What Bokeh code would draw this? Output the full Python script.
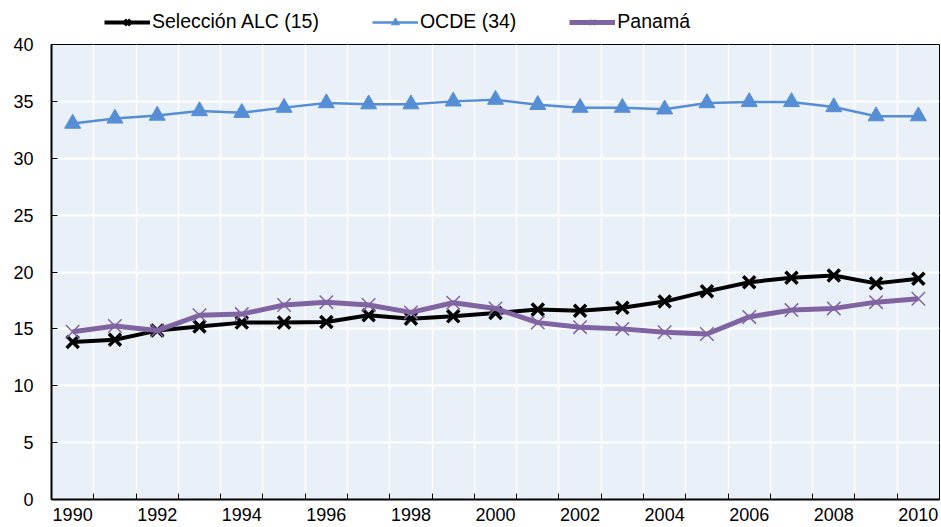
from bokeh.plotting import figure
from bokeh.layouts import column
from bokeh.models import FixedTicker, Legend, LegendItem, ColumnDataSource
from bokeh.embed import file_html
from bokeh.resources import INLINE

years = list(range(1990, 2011))
alc = [13.85, 14.05, 14.85, 15.2, 15.55, 15.55, 15.6, 16.2, 15.9, 16.1, 16.4,
       16.7, 16.6, 16.85, 17.4, 18.3, 19.1, 19.5, 19.7, 19.0, 19.4]
ocde = [33.05, 33.5, 33.75, 34.15, 34.0, 34.45, 34.85, 34.75, 34.75, 35.0, 35.15,
        34.7, 34.45, 34.45, 34.3, 34.85, 34.95, 34.95, 34.5, 33.7, 33.7]
panama = [14.75, 15.25, 14.85, 16.2, 16.3, 17.1, 17.35, 17.1, 16.45, 17.3, 16.8,
          15.55, 15.15, 15.0, 14.7, 14.55, 16.05, 16.65, 16.8, 17.35, 17.65]
labels = ["Selección ALC (15)", "OCDE (34)", "Panamá"]
y_ticks = [0, 5, 10, 15, 20, 25, 30, 35, 40]
x_label_years = list(range(1990, 2011, 2))

FONT = "Liberation Sans"
ALC_C = "#000000"
OCDE_C = "#558ED5"
PAN_C = "#8064A2"

src = ColumnDataSource(dict(year=years, alc=alc, ocde=ocde, panama=panama))


def draw_series(fig, source):
    l1 = fig.line("year", "alc", source=source, line_color=ALC_C, line_width=4)
    m1 = fig.scatter("year", "alc", source=source, marker="x", size=17, line_color=ALC_C, line_width=3.5)
    l2 = fig.line("year", "ocde", source=source, line_color=OCDE_C, line_width=2.5)
    m2 = fig.scatter("year", "ocde", source=source, marker="triangle", size=16,
                     fill_color=OCDE_C, line_color=OCDE_C)
    l3 = fig.line("year", "panama", source=source, line_color=PAN_C, line_width=5)
    m3 = fig.scatter("year", "panama", source=source, marker="x", size=19, line_color=PAN_C, line_width=1.5)
    return [(l1, m1), (l2, m2), (l3, m3)]


# ---- main chart ----
p = figure(width=941, height=491, x_range=(1989.5, 2010.5), y_range=(0, 40),
           output_backend="svg", toolbar_location=None,
           min_border_left=51, min_border_right=2, min_border_top=8, min_border_bottom=28)
p.background_fill_color = "#EAF0F8"
p.border_fill_color = "white"
p.outline_line_color = "black"
p.outline_line_width = 1

half_ticks = [y - 0.5 for y in years] + [2010.5]
p.xaxis.ticker = FixedTicker(ticks=x_label_years, minor_ticks=half_ticks)
p.xaxis.major_tick_in = 0
p.xaxis.major_tick_out = 0
p.xaxis.minor_tick_in = 6
p.xaxis.minor_tick_out = 0
p.xaxis.minor_tick_line_color = "black"
p.xaxis.minor_tick_line_width = 1
p.xgrid.ticker = FixedTicker(ticks=half_ticks)

p.yaxis.ticker = FixedTicker(ticks=y_ticks)
p.yaxis.major_tick_in = 6
p.yaxis.major_tick_out = 0
p.yaxis.minor_tick_line_color = None

for ax in (p.xaxis[0], p.yaxis[0]):
    ax.axis_line_color = "black"
    ax.axis_line_width = 2
    ax.major_tick_line_color = "black"
    ax.major_label_text_font = FONT
    ax.major_label_text_font_size = "18px"
    ax.major_label_text_color = "black"
p.xaxis.major_label_standoff = 8
p.yaxis.major_label_standoff = 18

p.xgrid.grid_line_color = "white"
p.xgrid.grid_line_width = 1.5
p.ygrid.grid_line_color = "white"
p.ygrid.grid_line_width = 2

draw_series(p, src)

# ---- legend strip (series drawn off-view; only the legend shows) ----
lg = figure(width=941, height=36, x_range=(0, 1), y_range=(0, 1),
            output_backend="svg", toolbar_location=None,
            x_axis_location=None, y_axis_location=None,
            min_border_left=0, min_border_right=0, min_border_top=0, min_border_bottom=0)
lg.outline_line_color = None
lg.xgrid.visible = False
lg.ygrid.visible = False
lg.background_fill_color = "white"
rs = draw_series(lg, src)

legend = Legend(items=[LegendItem(label=lab, renderers=list(r)) for lab, r in zip(labels, rs)],
                orientation="horizontal", location=(53, 3))
legend.label_text_font = FONT
legend.label_text_font_size = "19.5px"
legend.label_text_color = "black"
legend.glyph_width = 46
legend.glyph_height = 20
legend.label_standoff = 2
legend.spacing = 53
legend.padding = 0
legend.margin = 0
legend.background_fill_alpha = 0
legend.border_line_color = None
lg.add_layout(legend, "center")

layout = column(lg, p, spacing=0)
open("out.html", "w").write(file_html(layout, INLINE))
